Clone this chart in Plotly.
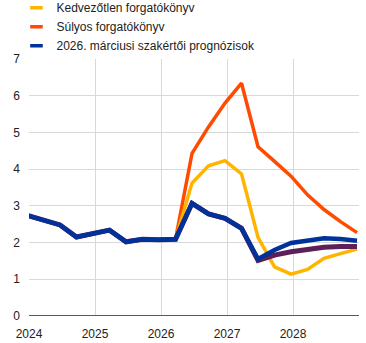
import plotly.graph_objects as go

quarters = ["2023Q4",
            "2024Q1", "2024Q2", "2024Q3", "2024Q4",
            "2025Q1", "2025Q2", "2025Q3", "2025Q4",
            "2026Q1", "2026Q2", "2026Q3", "2026Q4",
            "2027Q1", "2027Q2", "2027Q3", "2027Q4",
            "2028Q1", "2028Q2", "2028Q3", "2028Q4"]

baseline = [2.74, 2.60, 2.48, 2.15, 2.24, 2.34, 2.02, 2.09, 2.08, 2.09,
            3.07, 2.78, 2.66, 2.39, 1.55, 1.80, 1.99, 2.07, 2.12, 2.10, 2.05]
other = [2.74, 2.60, 2.48, 2.15, 2.24, 2.34, 2.02, 2.09, 2.08, 2.09,
         3.07, 2.78, 2.66, 2.39, 1.51, 1.66, 1.75, 1.81, 1.87, 1.89, 1.89]
adverse = [None] * 9 + [2.09, 3.62, 4.09, 4.23, 3.87, 2.14, 1.34, 1.14, 1.27, 1.57, 1.70, 1.82]
severe = [None] * 9 + [2.09, 4.43, 5.15, 5.80, 6.34, 4.61, 4.21, 3.81, 3.30, 2.90, 2.57, 2.27]

names = ["Kedvezőtlen forgatókönyv", "Súlyos forgatókönyv", "2026. márciusi szakértői prognózisok"]
year_ticks = [2024, 2025, 2026, 2027, 2028, 2029]
year_labels = ["2024", "2025", "2026", "2027", "2028", ""]
y_ticks = [0, 1, 2, 3, 4, 5, 6, 7]

x = [int(q[:4]) + 0.25 * int(q[-1]) - 0.03 for q in quarters]

C_YEL = "#FFB400"
C_ORA = "#FF4B00"
C_BLU = "#003299"
C_PUR = "#5C1F57"

fig = go.Figure()
fig.add_trace(go.Scatter(x=x, y=severe, mode="lines", line=dict(color=C_ORA, width=3.5),
                         showlegend=False, hoverinfo="skip"))
fig.add_trace(go.Scatter(x=x, y=adverse, mode="lines", line=dict(color=C_YEL, width=3.5),
                         showlegend=False, hoverinfo="skip"))
fig.add_trace(go.Scatter(x=x, y=other, mode="lines", line=dict(color=C_PUR, width=5),
                         showlegend=False, hoverinfo="skip"))
fig.add_trace(go.Scatter(x=x, y=baseline, mode="lines", line=dict(color=C_BLU, width=4.5),
                         showlegend=False, hoverinfo="skip"))

for name, col in zip(names, [C_YEL, C_ORA, C_BLU]):
    fig.add_trace(go.Scatter(x=[None], y=[None], mode="markers", name=name,
                             marker=dict(symbol="line-ew", size=9, color=col,
                                         line=dict(color=col, width=3.5))))

fig.update_layout(
    width=366, height=343,
    margin=dict(l=28.5, r=6.7, t=59, b=27, autoexpand=False),
    paper_bgcolor="white", plot_bgcolor="white",
    font=dict(family="Arial, Liberation Sans, sans-serif", size=12, color="#222222"),
    legend=dict(xref="paper", yref="paper", x=-0.038, y=1.256,
                xanchor="left", yanchor="top", bgcolor="rgba(0,0,0,0)",
                font=dict(size=12, color="#222222"), itemwidth=30,
                tracegroupgap=0),
    xaxis=dict(range=[2024, 2029], tickvals=year_ticks, ticktext=year_labels,
               showgrid=True, gridcolor="#D9D9D9", gridwidth=1, tickangle=0,
               showline=False, zeroline=False, ticks="", ticklabelstandoff=9,
               tickfont=dict(size=12)),
    yaxis=dict(range=[0, 7], tickvals=y_ticks, showgrid=True, gridcolor="#D9D9D9",
               gridwidth=1, zeroline=False, showline=False, ticks="",
               ticklabelstandoff=8, tickfont=dict(size=12)),
    shapes=[dict(type="line", xref="paper", yref="y", x0=0, x1=1, y0=0, y1=0,
                 line=dict(color="#595959", width=2))],
)

fig.write_html("out.html")
